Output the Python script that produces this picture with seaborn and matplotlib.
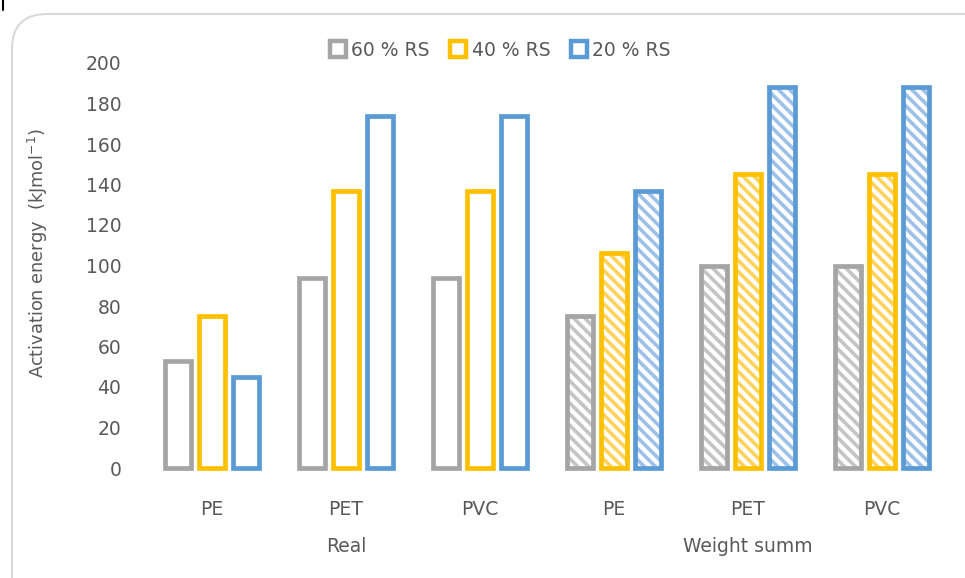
import numpy as np
import pandas as pd
import seaborn as sns
import matplotlib
matplotlib.use("Agg")
import matplotlib.pyplot as plt
from matplotlib.patches import FancyBboxPatch, Rectangle
from matplotlib.lines import Line2D
from matplotlib.colors import to_hex

# ---------------- data ----------------
groups = ["Real", "Weight summ"]
materials = ["PE", "PET", "PVC"]
series = ["60 % RS", "40 % RS", "20 % RS"]
real_60 = [53, 94, 94]
real_40 = [75, 137, 137]
real_20 = [45, 174, 174]
ws_60 = [75, 100, 100]
ws_40 = [106, 145, 145]
ws_20 = [137, 188, 188]
y_ticks = [0, 20, 40, 60, 80, 100, 120, 140, 160, 180, 200]

colors = ["#A5A5A5", "#FFC000", "#5B9BD5"]
hatch_colors = ["#C4C4C4", "#FFD35A", "#9DC0E8"]
text_color = "#595959"

values = {
    "Real": [real_60, real_40, real_20],
    "Weight summ": [ws_60, ws_40, ws_20],
}
rows = []
keys = []
for g in groups:
    for mi, m in enumerate(materials):
        key = f"{g}|{m}"
        keys.append(key)
        for si, s in enumerate(series):
            rows.append({"key": key, "group": g, "material": m,
                         "series": s, "value": values[g][si][mi]})
df = pd.DataFrame(rows)

# ---------------- style ----------------
sns.set_theme(style="white")
plt.rcParams["font.family"] = ["DejaVu Sans"]
plt.rcParams["mathtext.fontset"] = "dejavusans"
plt.rcParams["hatch.linewidth"] = 2.6
FS = 13.5

W, H = 965, 578
fig = plt.figure(figsize=(W / 100, H / 100), dpi=100)
ax = fig.add_axes([145 / W, 1 - 468 / H, (949 - 145) / W, (468 - 63) / H])

sns.barplot(data=df, x="key", y="value", hue="series", order=keys,
            hue_order=series, palette=colors, fill=False, width=0.76,
            gap=0.21, linewidth=3.4, errorbar=None, legend=False, ax=ax)

col_hex = [to_hex(c) for c in colors]
for p in list(ax.patches):
    p.set_clip_on(False)
    p.set_joinstyle("miter")
    cx = p.get_x() + p.get_width() / 2
    if cx > 2.5:
        ec = to_hex(p.get_edgecolor())
        idx = col_hex.index(ec) if ec in col_hex else 0
        r = Rectangle((p.get_x(), p.get_y()), p.get_width(), p.get_height(),
                      facecolor="none", edgecolor=hatch_colors[idx], lw=0,
                      hatch="\\\\\\", zorder=p.get_zorder() - 0.1)
        ax.add_patch(r)

ax.set_xlim(-0.5, 5.5)
ax.set_ylim(0, 200)
ax.set_yticks(y_ticks)
ax.set_yticklabels([str(t) for t in y_ticks])
ax.set_xticks(range(len(keys)))
ax.set_xticklabels([k.split("|")[1] for k in keys])
ax.tick_params(axis="y", length=0, pad=17, labelsize=FS, labelcolor=text_color)
ax.tick_params(axis="x", length=0, pad=23, labelsize=FS, labelcolor=text_color)
ax.set_xlabel("")
ax.set_ylabel("")
for s in ax.spines.values():
    s.set_visible(False)
ax.grid(False)

# group labels
for gi, g in enumerate(groups):
    ax.text(gi * 3 + 1, (468 - 546) / (468 - 63), g, ha="center", va="center",
            fontsize=FS, color=text_color,
            transform=ax.get_xaxis_transform())

# y label
fig.text(38 / W, 1 - 253 / H, "Activation energy  (kJmol$^{\\mathregular{-1}}$)",
         rotation=90, ha="center", va="center", fontsize=12.8, color=text_color)

# legend
handles = [Line2D([], [], linestyle="none", marker="s", markersize=11,
                  markerfacecolor="white", markeredgecolor=c, markeredgewidth=3.2)
           for c in colors]
fig.legend(handles, series, loc="center", bbox_to_anchor=(501 / W, 1 - 50 / H),
           ncol=3, frameon=False, handlelength=0.7, handletextpad=0.35,
           columnspacing=1.2, fontsize=FS, labelcolor=text_color)

# rounded outer frame
frame = FancyBboxPatch((0.12, -0.6), 10.5, 5.78 - 0.14 + 0.6,
                       boxstyle="round,pad=0,rounding_size=0.35",
                       transform=fig.dpi_scale_trans, facecolor="none",
                       edgecolor="#D9D9D9", lw=1.5, clip_on=False)
fig.add_artist(frame)
fig.add_artist(Line2D([3 / W, 3 / W], [1, 1 - 10 / H], color="black", lw=1.5,
                      transform=fig.transFigure))

fig.savefig("out.png", dpi=100)
